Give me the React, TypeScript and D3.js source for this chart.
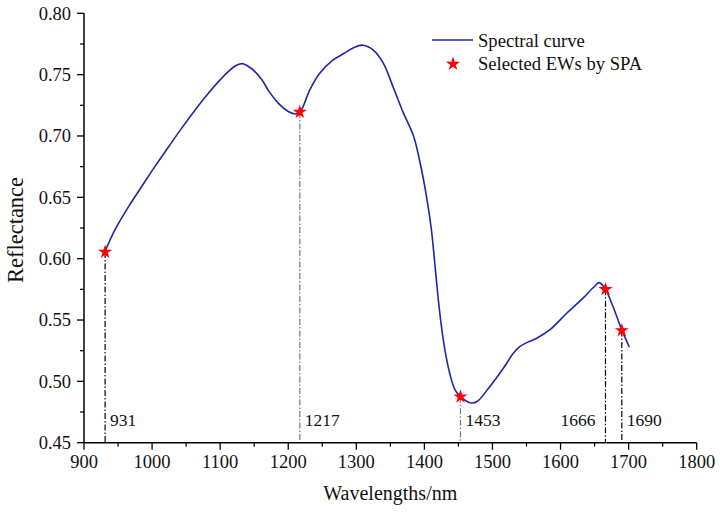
import React from "react";
import * as d3 from "d3";

const wavelengths = [931, 945, 965, 985, 1004, 1024, 1043, 1063, 1083, 1102, 1122, 1132, 1146, 1161, 1171, 1185, 1200, 1212, 1218, 1232, 1246, 1266, 1281, 1296, 1310, 1325, 1340, 1354, 1369, 1384, 1393, 1403, 1410, 1415, 1420, 1425, 1430, 1437, 1445, 1453, 1467, 1477, 1496, 1510, 1521, 1530, 1540, 1552, 1565, 1584, 1609, 1633, 1650, 1657, 1666, 1677, 1690, 1701];
const reflectance = [0.606, 0.623, 0.642, 0.659, 0.675, 0.691, 0.706, 0.721, 0.735, 0.747, 0.757, 0.759, 0.755, 0.746, 0.737, 0.727, 0.720, 0.718, 0.720, 0.738, 0.751, 0.762, 0.767, 0.772, 0.774, 0.770, 0.759, 0.740, 0.719, 0.700, 0.680, 0.651, 0.625, 0.598, 0.569, 0.545, 0.526, 0.507, 0.493, 0.4875, 0.4826, 0.4834, 0.4957, 0.506, 0.5148, 0.5225, 0.5283, 0.532, 0.5352, 0.5419, 0.5555, 0.5678, 0.5775, 0.5805, 0.575, 0.561, 0.542, 0.528];

const selectedWavelengths = [931, 1217, 1453, 1666, 1690];
const selectedReflectance = [0.6055, 0.7195, 0.4875, 0.575, 0.5415];
const selectedLineColor = ["#000", "#777", "#777", "#000", "#000"];
const selectedLabelSide = ["right", "right", "right", "left", "right"];

const xTicks = [900, 1000, 1100, 1200, 1300, 1400, 1500, 1600, 1700, 1800];
const yTicks = [0.45, 0.5, 0.55, 0.6, 0.65, 0.7, 0.75, 0.8];

const FONT = '"Times New Roman", "Liberation Serif", "DejaVu Serif", serif';

export default function App() {
  const x = d3.scaleLinear().domain([900, 1800]).range([84, 696.7]);
  const y = d3.scaleLinear().domain([0.45, 0.8]).range([442.7, 13.3]);
  const pts = wavelengths.map((w, i) => [w, reflectance[i]] as [number, number]);
  const line = d3
    .line<[number, number]>()
    .x((d) => x(d[0]))
    .y((d) => y(d[1]))
    .curve(d3.curveCatmullRom.alpha(0.5));
  const star = d3.symbol().type(d3.symbolStar).size(62)();
  const xMinor = d3.range(950, 1800, 100);
  const yMinor = d3.range(0.475, 0.8, 0.05);
  const y0 = y(0.45);
  const x0 = x(900);
  const txt = { fontFamily: FONT, fill: "#111" } as React.CSSProperties;

  return (
    <svg width={720} height={514} style={{ position: "absolute", left: 0, top: 0, background: "#fff", fontFamily: FONT }}>
      {selectedWavelengths.map((w, i) => (
        <line
          key={"d" + w}
          x1={x(w)}
          x2={x(w)}
          y1={y(selectedReflectance[i])}
          y2={y0}
          stroke={selectedLineColor[i]}
          strokeWidth={1.2}
          strokeDasharray="6,2,1.5,2"
        />
      ))}
      {selectedWavelengths.map((w, i) => (
        <text
          key={"l" + w}
          x={selectedLabelSide[i] === "right" ? x(w) + 5 : x(w) - 10}
          y={426}
          style={{ ...txt, fontSize: 17.5 }}
          textAnchor={selectedLabelSide[i] === "right" ? "start" : "end"}
        >
          {w}
        </text>
      ))}
      <path d={line(pts) || ""} fill="none" stroke="#2424a8" strokeWidth={1.6} />
      {selectedWavelengths.map((w, i) => (
        <path key={"s" + w} d={star || ""} transform={`translate(${x(w)},${y(selectedReflectance[i])})`} fill="#f00" />
      ))}
      <line x1={x0} x2={x(1800)} y1={y0} y2={y0} stroke="#000" strokeWidth={1.5} />
      <line x1={x0} x2={x0} y1={y(0.8)} y2={y0} stroke="#000" strokeWidth={1.5} />
      {xTicks.map((t) => (
        <g key={"xt" + t}>
          <line x1={x(t)} x2={x(t)} y1={y0} y2={y0 + 7} stroke="#000" strokeWidth={1.3} />
          <text x={x(t)} y={468} textAnchor="middle" style={{ ...txt, fontSize: 18.5 }}>
            {t}
          </text>
        </g>
      ))}
      {xMinor.map((t) => (
        <line key={"xm" + t} x1={x(t)} x2={x(t)} y1={y0} y2={y0 + 4} stroke="#000" strokeWidth={1.2} />
      ))}
      {yTicks.map((t) => (
        <g key={"yt" + t}>
          <line x1={x0 - 7} x2={x0} y1={y(t)} y2={y(t)} stroke="#000" strokeWidth={1.3} />
          <text x={71} y={y(t)} dy="0.35em" textAnchor="end" style={{ ...txt, fontSize: 18.5 }}>
            {t.toFixed(2)}
          </text>
        </g>
      ))}
      {yMinor.map((t) => (
        <line key={"ym" + t} x1={x0 - 4} x2={x0} y1={y(t)} y2={y(t)} stroke="#000" strokeWidth={1.2} />
      ))}
      <text x={390.3} y={500} textAnchor="middle" style={{ ...txt, fontSize: 20 }}>
        Wavelengths/nm
      </text>
      <text transform={`translate(23,230) rotate(-90)`} textAnchor="middle" style={{ ...txt, fontSize: 22.5 }}>
        Reflectance
      </text>
      <line x1={432} x2={473} y1={40} y2={40} stroke="#2424a8" strokeWidth={1.6} />
      <text x={478} y={47} style={{ ...txt, fontSize: 18.6 }}>
        Spectral curve
      </text>
      <path d={star || ""} transform="translate(453,64)" fill="#f00" />
      <text x={478} y={70} style={{ ...txt, fontSize: 18.6 }}>
        Selected EWs by SPA
      </text>
    </svg>
  );
}
